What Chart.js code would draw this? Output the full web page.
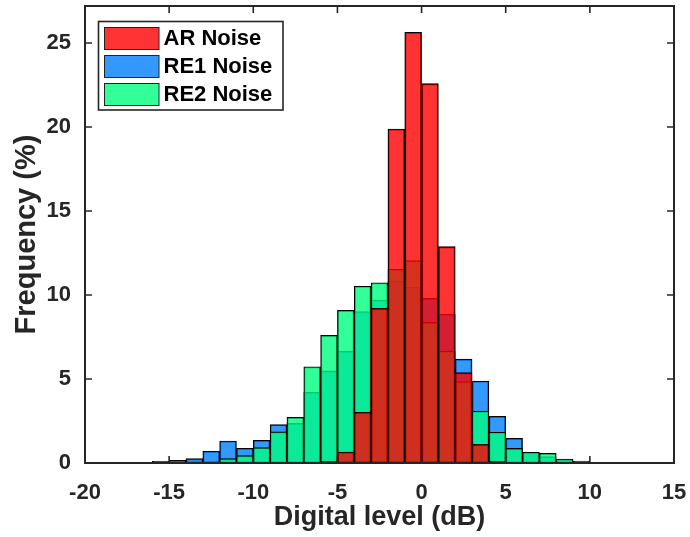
<!DOCTYPE html>
<html>
<head>
<meta charset="utf-8">
<script src="https://cdn.jsdelivr.net/npm/chart.js@4.4.1/dist/chart.umd.min.js"></script>
<style>
  html, body { margin: 0; padding: 0; background: #fff; }
  #wrap { width: 690px; height: 537px; }
</style>
</head>
<body>
<div id="wrap"><canvas id="hist" width="690" height="537"></canvas></div>
<script>
// left edge of each 1 dB bin
const binStarts = [-20, -19, -18, -17, -16, -15, -14, -13, -12, -11, -10, -9, -8, -7, -6, -5, -4, -3, -2, -1,
                   0, 1, 2, 3, 4, 5, 6, 7, 8, 9, 10, 11, 12, 13, 14];

// frequency (%) per bin
const arNoise = [0, 0, 0, 0, 0, 0, 0, 0, 0, 0, 0, 0, 0, 0, 0.1, 0.65, 3.02, 9.2, 19.88, 25.64,
                 22.58, 12.88, 5.38, 1.11, 0.1, 0, 0, 0, 0, 0, 0, 0, 0, 0, 0];
const re1Noise = [0, 0, 0, 0.04, 0.1, 0.16, 0.26, 0.7, 1.31, 0.88, 1.35, 2.29, 2.36, 4.21, 5.48, 6.65, 9.01, 9.7, 10.83, 10.46,
                  9.8, 8.87, 6.18, 4.88, 2.78, 1.47, 0.6, 0.38, 0.2, 0.05, 0, 0, 0, 0, 0];
const re2Noise = [0, 0, 0, 0, 0, 0, 0, 0.05, 0.26, 0.44, 0.92, 1.85, 2.72, 5.73, 7.6, 9.09, 10.52, 10.73, 11.53, 12.05,
                  8.37, 6.66, 4.84, 3.08, 1.83, 0.87, 0.64, 0.58, 0.24, 0.12, 0, 0, 0, 0, 0];

const xTicks = [-20, -15, -10, -5, 0, 5, 10, 15];
const yTicks = [0, 5, 10, 15, 20, 25];

const FONT = "'Liberation Sans', Arial, Helvetica, sans-serif";
const INK = '#262626';

function toPoints(vals) {
  return binStarts.map((b, i) => ({ x: b + 0.5, y: vals[i] ? vals[i] : null }));
}

// box, inward ticks and the boxed legend, MATLAB style
const frame = {
  id: 'frame',
  afterDatasetsDraw(chart) {
    const { ctx, chartArea: a, scales: { x, y } } = chart;
    ctx.save();
    ctx.strokeStyle = INK;
    ctx.lineWidth = 1.6;
    ctx.beginPath();
    xTicks.forEach(v => {
      const px = x.getPixelForValue(v);
      ctx.moveTo(px, a.bottom); ctx.lineTo(px, a.bottom - 7);
      ctx.moveTo(px, a.top); ctx.lineTo(px, a.top + 7);
    });
    yTicks.forEach(v => {
      const py = y.getPixelForValue(v);
      ctx.moveTo(a.left, py); ctx.lineTo(a.left + 7, py);
      ctx.moveTo(a.right, py); ctx.lineTo(a.right - 7, py);
    });
    ctx.stroke();
    ctx.lineWidth = 2;
    ctx.strokeRect(a.left, a.top, a.right - a.left, a.bottom - a.top);

    // legend
    const lx = 98.5, ly = 21.5, lw = 184.5, lh = 88.5;
    ctx.fillStyle = '#fff';
    ctx.fillRect(lx, ly, lw, lh);
    ctx.lineWidth = 1.6;
    ctx.strokeRect(lx, ly, lw, lh);
    ctx.font = 'bold 22px ' + FONT;
    ctx.textBaseline = 'middle';
    chart.data.datasets.forEach((ds, i) => {
      const ry = 27.5 + i * 28;
      ctx.fillStyle = ds.backgroundColor;
      ctx.fillRect(104.5, ry, 54.5, 22);
      ctx.lineWidth = 1;
      ctx.strokeStyle = '#222';
      ctx.strokeRect(104.5, ry, 54.5, 22);
      ctx.fillStyle = '#000';
      ctx.fillText(ds.label, 163.5, ry + 11.5);
    });
    ctx.restore();
  }
};

new Chart(document.getElementById('hist'), {
  type: 'bar',
  data: {
    datasets: [
      { label: 'AR Noise', data: toPoints(arNoise), backgroundColor: 'rgba(255,0,0,0.8)', order: 0 },
      { label: 'RE1 Noise', data: toPoints(re1Noise), backgroundColor: 'rgba(0,128,255,0.8)', order: 2 },
      { label: 'RE2 Noise', data: toPoints(re2Noise), backgroundColor: 'rgba(0,255,128,0.8)', order: 1 },
    ]
  },
  options: {
    responsive: false,
    animation: false,
    layout: { padding: { top: 6, right: 16, left: 0, bottom: 0 } },
    datasets: {
      bar: {
        grouped: false,
        barPercentage: 1,
        categoryPercentage: 1,
        borderColor: '#000',
        borderWidth: 1.2,
        borderSkipped: false,
      }
    },
    plugins: {
      legend: { display: false },
      tooltip: { enabled: false },
    },
    scales: {
      x: {
        type: 'linear',
        min: -20,
        max: 15,
        offset: false,
        grid: { display: false, offset: false },
        border: { display: false },
        afterBuildTicks: s => { s.ticks = xTicks.map(v => ({ value: v })); },
        ticks: { color: INK, padding: 9, maxRotation: 0, font: { family: FONT, size: 22, weight: 'bold' } },
        title: { display: true, text: 'Digital level (dB)', color: INK, padding: { top: 0, bottom: 3 },
                 font: { family: FONT, size: 27, weight: 'bold' } },
        afterFit: s => { s.height = 74; s.paddingLeft = 0; s.paddingRight = 0; },
      },
      y: {
        min: 0,
        max: 27.2,
        grid: { display: false },
        border: { display: false },
        afterBuildTicks: s => { s.ticks = yTicks.map(v => ({ value: v })); },
        ticks: { color: INK, padding: 6, font: { family: FONT, size: 22, weight: 'bold' } },
        title: { display: true, text: 'Frequency (%)', color: INK, padding: { top: 10, bottom: 0 },
                 font: { family: FONT, size: 29, weight: 'bold' } },
        afterFit: s => { s.width = 85; s.paddingTop = 0; s.paddingBottom = 0; },
      }
    }
  },
  plugins: [frame]
});
</script>
</body>
</html>
